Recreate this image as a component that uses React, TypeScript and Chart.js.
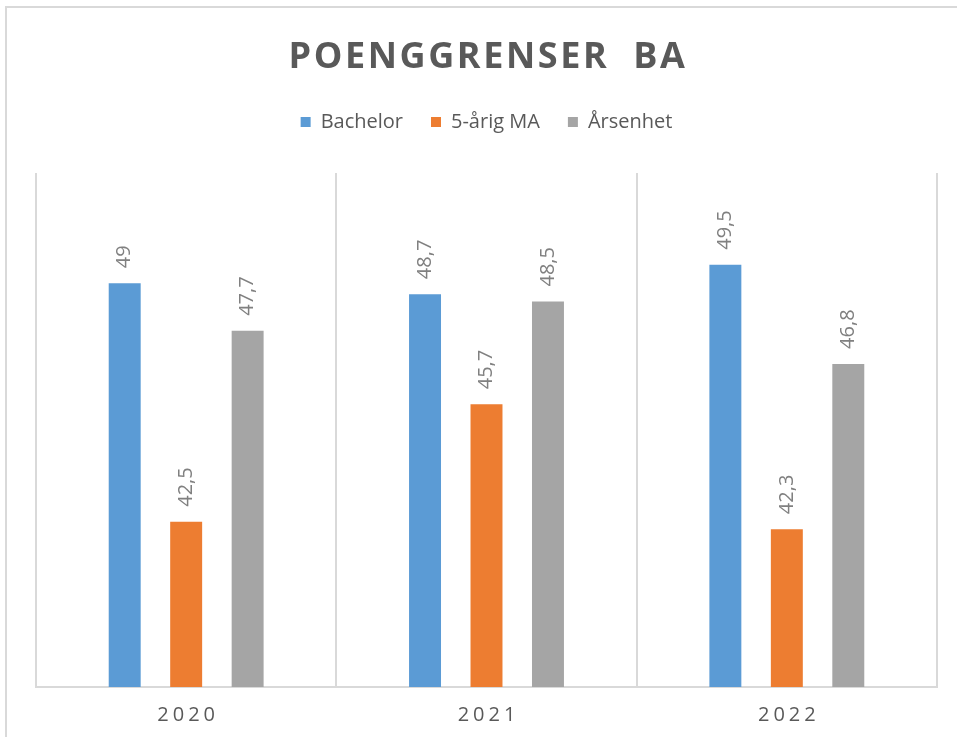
import React, { useEffect, useRef } from "react";
import { Chart, registerables } from "chart.js";

Chart.register(...registerables);

const TITLE = "POENGGRENSER  BA";
const categories = ["2020", "2021", "2022"];
const seriesNames = ["Bachelor", "5-årig MA", "Årsenhet"];
const bachelor = [49, 48.7, 49.5];
const femArigMA = [42.5, 45.7, 42.3];
const arsenhet = [47.7, 48.5, 46.8];
const seriesColors = ["#5B9BD5", "#ED7D31", "#A5A5A5"];
const yMin = 38;
const yMax = 52;

const FONT = '"Open Sans", "Liberation Sans", sans-serif';
const TEXT_DARK = "#595959";
const LABEL_GRAY = "#808080";
const GRID = "#d9d9d9";

const fmt = (v: number) => String(v).replace(".", ",");

const legendSpacer = {
  id: "legendSpacer",
  beforeInit(chart: any) {
    const lg = chart.legend;
    if (!lg) return;
    const fit = lg.fit;
    lg.fit = function () {
      fit.call(this);
      this.height += 31;
    };
  },
};

const titlePlugin = {
  id: "spacedTitle",
  afterDraw(chart: any) {
    const { ctx, chartArea } = chart;
    ctx.save();
    ctx.font = `700 36px ${FONT}`;
    ctx.fillStyle = TEXT_DARK;
    (ctx as any).letterSpacing = "2.6px";
    ctx.textAlign = "center";
    ctx.textBaseline = "alphabetic";
    const cx = (chartArea.left + chartArea.right) / 2 + 1.5;
    ctx.fillText(TITLE, cx, 68);
    ctx.restore();
  },
};

const xTicksPlugin = {
  id: "spacedTicks",
  afterDraw(chart: any) {
    const { ctx } = chart;
    const xs = chart.scales.x;
    ctx.save();
    ctx.font = `400 20px ${FONT}`;
    ctx.fillStyle = TEXT_DARK;
    (ctx as any).letterSpacing = "4px";
    ctx.textAlign = "center";
    ctx.textBaseline = "alphabetic";
    categories.forEach((c, i) => {
      const x = xs.getPixelForTick(i) + 2;
      ctx.fillText(c, x, 721);
    });
    ctx.restore();
  },
};

const dataLabelPlugin = {
  id: "rotLabels",
  afterDatasetsDraw(chart: any) {
    const { ctx } = chart;
    ctx.save();
    ctx.font = `400 20px ${FONT}`;
    ctx.fillStyle = LABEL_GRAY;
    ctx.textAlign = "left";
    ctx.textBaseline = "middle";
    chart.data.datasets.forEach((ds: any, di: number) => {
      const meta = chart.getDatasetMeta(di);
      meta.data.forEach((bar: any, i: number) => {
        const v = ds.data[i];
        ctx.save();
        ctx.translate(bar.x, bar.y - 15);
        ctx.rotate(-Math.PI / 2);
        ctx.fillText(fmt(v), 0, 0);
        ctx.restore();
      });
    });
    ctx.restore();
  },
};

export default function App() {
  const ref = useRef<HTMLCanvasElement | null>(null);

  useEffect(() => {
    if (!ref.current) return;
    const seriesData = [bachelor, femArigMA, arsenhet];
    const chart = new Chart(ref.current, {
      type: "bar",
      data: {
        labels: categories,
        datasets: seriesNames.map((name, i) => ({
          label: name,
          data: seriesData[i],
          backgroundColor: seriesColors[i],
          borderWidth: 0,
          categoryPercentage: 0.614,
          barPercentage: 0.52,
        })),
      },
      options: {
        responsive: false,
        maintainAspectRatio: false,
        animation: false,
        layout: { padding: { top: 84, left: 36, right: 20, bottom: 50 } },
        plugins: {
          title: { display: false },
          tooltip: { enabled: false },
          legend: {
            display: true,
            position: "top",
            labels: {
              boxWidth: 10,
              boxHeight: 10,
              padding: 28,
              color: TEXT_DARK,
              font: { family: FONT, size: 20 },
            },
          },
        },
        scales: {
          x: {
            offset: true,
            grid: { display: true, color: GRID, lineWidth: 2, drawTicks: false, offset: true },
            border: { display: true, color: GRID, width: 2 },
            ticks: { display: false },
          },
          y: {
            display: false,
            min: yMin,
            max: yMax,
          },
        },
      },
      plugins: [legendSpacer, titlePlugin, xTicksPlugin, dataLabelPlugin],
    } as any);
    return () => chart.destroy();
  }, []);

  return (
    <div
      style={{
        position: "absolute",
        left: 0,
        top: 0,
        width: 957,
        height: 737,
        overflow: "hidden",
        background: "#ffffff",
      }}
    >
      <div
        style={{
          position: "absolute",
          left: 5,
          top: 6,
          width: 1200,
          height: 1200,
          border: "2px solid #d9d9d9",
          boxSizing: "border-box",
        }}
      />
      <canvas ref={ref} width={957} height={737} style={{ position: "absolute", left: 0, top: 0 }} />
    </div>
  );
}
